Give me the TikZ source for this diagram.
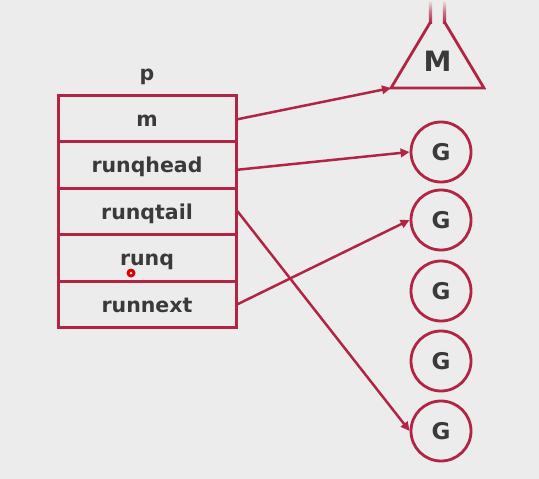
\documentclass[tikz,border=0pt]{standalone}
\usepackage{fontspec}
\setmainfont{DejaVu Sans}
\usetikzlibrary{arrows.meta}
\definecolor{bg}{RGB}{236,236,236}
\definecolor{rd}{RGB}{178,36,68}
\definecolor{tx}{RGB}{58,58,58}
\tikzset{
  row/.style={draw=rd, line width=3pt, minimum width=178pt, minimum height=46.5pt, inner sep=0pt, text height=16pt, text depth=0pt, font=\fontsize{20.5}{24}\selectfont\bfseries, text=tx},
  gnode/.style={circle, draw=rd, line width=2.8pt, minimum size=60pt, inner sep=0pt, font=\fontsize{23}{27}\selectfont\bfseries, text=tx},
  link/.style={draw=rd, line width=2.5pt, -{Triangle[length=9pt,width=8.5pt]}},
}
\begin{document}
\begin{tikzpicture}[x=1pt,y=-1pt]
\fill[bg] (0,0) rectangle (539,479);
\useasboundingbox (0,0) rectangle (539,479);
% table
\node[row] (m)  at (147,118.25) {m};
\node[row] (rh) at (147,164.75) {runqhead};
\node[row] (rt) at (147,211.25) {runqtail};
\node[row] (rq) at (147,257.75) {runq};
\node[row] (rn) at (147,304.25) {runnext};
\node[font=\fontsize{20.5}{24}\selectfont\bfseries, text=tx, text height=15pt, text depth=0pt, inner sep=0pt] (p) at (147,72.5) {p};
% M funnel
\shade[top color=bg, bottom color=rd, middle color=rd!60!bg] (428.8,0) rectangle (432.2,23);
\shade[top color=bg, bottom color=rd, middle color=rd!60!bg] (442.8,0) rectangle (446.2,23);
\draw[rd, line width=2.8pt, line join=miter] (430.5,22) -- (391,88) -- (484,88) -- (444.5,22);
\coordinate (ml) at (391,88);
\node[font=\fontsize{28}{32}\selectfont\bfseries, text=tx] (M) at (437.5,61) {M};
% G circles
\node[gnode] (g1) at (441,152) {G};
\node[gnode] (g2) at (441,220) {G};
\node[gnode] (g3) at (441,291) {G};
\node[gnode] (g4) at (441,361) {G};
\node[gnode] (g5) at (441,431) {G};
% arrows
\draw[link] ([yshift=-1pt]m.east) -- (ml);
\draw[link] ([yshift=-5pt]rh.east) -- (g1.west);
\draw[link] (rt.east) -- (g5.west);
\draw[link] (rn.east) -- (g2.west);
% cursor mark
\node[circle, fill=red!85!black, minimum size=9pt, inner sep=0pt] (cur) at (131,273) {};
\node[circle, fill=red!20, minimum size=3pt, inner sep=0pt] (curc) at (cur) {};
\end{tikzpicture}
\end{document}
